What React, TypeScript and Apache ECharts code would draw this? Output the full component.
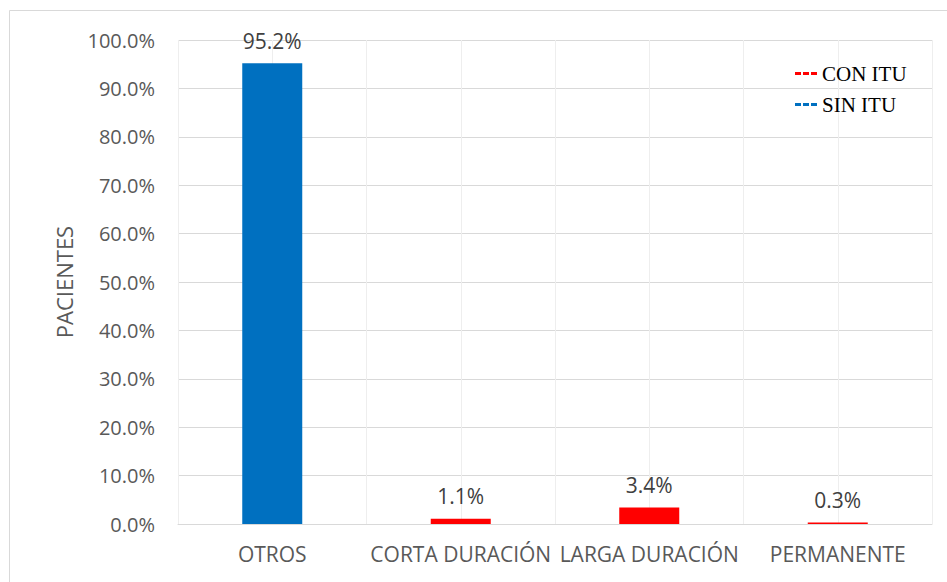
import React, { useEffect, useRef } from "react";
import * as echarts from "echarts";

const categories = ["OTROS", "CORTA DURACIÓN", "LARGA DURACIÓN", "PERMANENTE"];
const conItu: (number | null)[] = [null, 1.1, 3.4, 0.3];
const sinItu: (number | null)[] = [95.2, null, null, null];
const legendNames = ["CON ITU", "SIN ITU"];
const yTicks = { min: 0, max: 100, interval: 10 };

const FONT = "'Open Sans', sans-serif";
const dashIcon = "path://M0,0h6v3h-6z M8,0h6v3h-6z M16,0h6v3h-6z";

export default function App() {
  const ref = useRef<HTMLDivElement>(null);
  useEffect(() => {
    if (!ref.current) return;
    const chart = echarts.init(ref.current, undefined, { renderer: "svg" });
    const label = {
      show: true,
      position: "top" as const,
      distance: 12,
      color: "#404040",
      fontFamily: FONT,
      fontSize: 21,
      formatter: (p: any) => (p.value == null ? "" : p.value.toFixed(1) + "%"),
    };
    chart.setOption({
      animation: false,
      backgroundColor: "#ffffff",
      graphic: [
        {
          type: "rect",
          shape: { x: 9.5, y: 10.5, width: 1000, height: 1000 },
          style: { fill: "none", stroke: "#d9d9d9", lineWidth: 1 },
          silent: true,
        },
      ],
      legend: {
        data: legendNames,
        orient: "vertical",
        left: 790,
        top: 58,
        itemWidth: 22,
        itemHeight: 3,
        itemGap: 10,
        icon: dashIcon,
        textStyle: { fontFamily: "'Liberation Serif', serif", fontSize: 21, color: "#000000" },
      },
      grid: { left: 178, right: 15, top: 40, bottom: 58 },
      xAxis: [
        {
          type: "category",
          data: categories,
          axisLine: { show: true, lineStyle: { color: "#d9d9d9", width: 1 } },
          axisTick: { show: false },
          splitLine: { show: false },
          axisLabel: { color: "#595959", fontFamily: FONT, fontSize: 21, margin: 19, interval: 0 },
        },
        {
          type: "value",
          min: 0,
          max: 8,
          interval: 1,
          position: "top",
          axisLine: { show: false },
          axisTick: { show: false },
          axisLabel: { show: false },
          splitLine: { show: true, lineStyle: { color: "#eeeeee", width: 1 } },
        },
      ],
      yAxis: {
        type: "value",
        min: yTicks.min,
        max: yTicks.max,
        interval: yTicks.interval,
        name: "PACIENTES",
        nameLocation: "middle",
        nameGap: 103,
        nameRotate: 90,
        nameTextStyle: { color: "#595959", fontFamily: FONT, fontSize: 22 },
        axisLine: { show: false },
        axisTick: { show: false },
        axisLabel: {
          color: "#595959",
          fontFamily: FONT,
          fontSize: 20,
          margin: 23,
          formatter: (v: number) => v.toFixed(1) + "%",
        },
        splitLine: { show: true, lineStyle: { color: "#d9d9d9", width: 1 } },
      },
      series: [
        {
          name: legendNames[0],
          type: "bar",
          stack: "s",
          data: conItu,
          barWidth: 60,
          itemStyle: { color: "#ff0000" },
          label,
          z: 3,
        },
        {
          name: legendNames[1],
          type: "bar",
          stack: "s",
          data: sinItu,
          barWidth: 60,
          itemStyle: { color: "#0070c0" },
          label,
          z: 3,
        },
      ],
    });
    return () => chart.dispose();
  }, []);
  return (
    <div
      ref={ref}
      style={{ position: "fixed", left: 0, top: 0, width: 947, height: 582 }}
    />
  );
}
